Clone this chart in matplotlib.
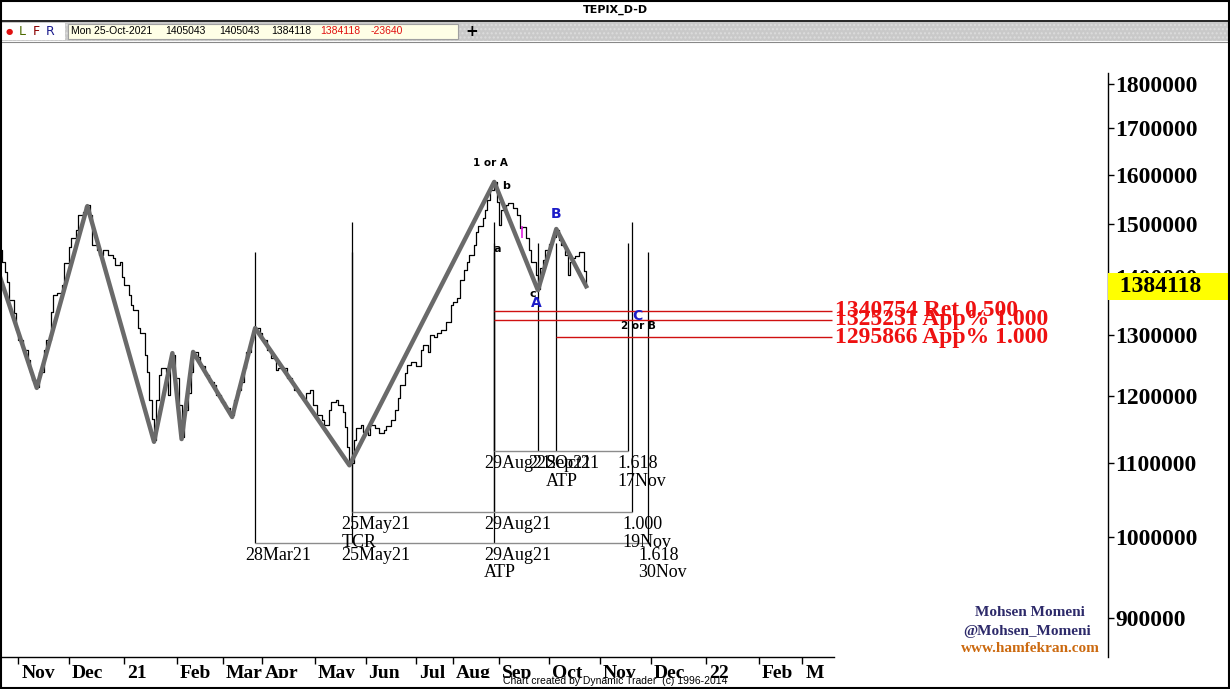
import matplotlib
matplotlib.use("Agg")
import matplotlib.pyplot as plt
import matplotlib.transforms as mtransforms
from matplotlib.patches import Rectangle
from matplotlib.ticker import FixedLocator, NullLocator, FixedFormatter, NullFormatter

# x values are trading-bar numbers counted from the first bar on the chart
bar_idx = [0, 1, 2, 3, 4, 6, 7, 8, 10, 12, 13, 14, 16, 17, 19, 20, 22, 23, 25, 27,
           28, 30, 31, 33, 34, 36, 37, 38, 39, 40, 42, 43, 45, 47, 49, 50, 52, 53, 54, 56,
           57, 58, 60, 61, 63, 64, 65, 66, 67, 68, 69, 70, 72, 73, 74, 75, 76, 78, 79, 80,
           82, 83, 84, 86, 87, 89, 91, 93, 94, 96, 98, 100, 101, 102, 103, 105, 106, 107, 109, 110,
           111, 113, 114, 116, 118, 120, 121, 123, 125, 127, 128, 130, 132, 133, 135, 136, 138, 140, 141, 143,
           144, 146, 147, 149, 150, 151, 152, 154, 155, 157, 158, 160, 161, 163, 165, 167, 168, 170, 172, 173,
           174, 176, 177, 179, 181, 183, 184, 186, 187, 189, 190, 192, 194, 196, 197, 199, 200, 202, 203, 204,
           206, 207, 208, 210, 211, 212, 213, 215, 216, 217, 218, 220, 221, 223, 225, 226, 227, 229, 230, 231,
           233, 234, 235, 236, 237, 239, 240, 242, 243, 244, 246, 247, 248, 249, 250, 252, 253, 254, 255]
bar_close = [1451000, 1428000, 1410000, 1392000, 1360000, 1337000, 1308000, 1291000, 1274000, 1258000,
             1238000, 1226000, 1214000, 1239000, 1274000, 1291000, 1339000, 1369000, 1372000, 1386000,
             1427000, 1457000, 1474000, 1489000, 1518000, 1524000, 1536000, 1538000, 1518000, 1460000,
             1451000, 1441000, 1451000, 1441000, 1436000, 1423000, 1428000, 1401000, 1386000, 1369000,
             1351000, 1342000, 1311000, 1302000, 1266000, 1238000, 1194000, 1165000, 1134000, 1194000,
             1234000, 1245000, 1239000, 1202000, 1258000, 1266000, 1229000, 1186000, 1138000, 1179000,
             1205000, 1238000, 1271000, 1263000, 1248000, 1234000, 1222000, 1218000, 1202000, 1191000,
             1182000, 1176000, 1171000, 1194000, 1210000, 1222000, 1245000, 1271000, 1291000, 1308000,
             1311000, 1302000, 1291000, 1274000, 1261000, 1242000, 1245000, 1245000, 1229000, 1221000,
             1210000, 1202000, 1194000, 1205000, 1210000, 1186000, 1171000, 1164000, 1156000, 1179000,
             1191000, 1194000, 1186000, 1176000, 1153000, 1123000, 1100000, 1134000, 1152000, 1156000,
             1146000, 1141000, 1156000, 1152000, 1144000, 1149000, 1155000, 1164000, 1179000, 1197000,
             1218000, 1237000, 1250000, 1254000, 1248000, 1274000, 1283000, 1271000, 1299000, 1296000,
             1302000, 1308000, 1321000, 1351000, 1356000, 1363000, 1396000, 1414000, 1428000, 1441000,
             1460000, 1485000, 1497000, 1512000, 1528000, 1548000, 1568000, 1585000, 1544000, 1499000,
             1528000, 1538000, 1542000, 1532000, 1518000, 1493000, 1495000, 1474000, 1451000, 1428000,
             1405000, 1379000, 1417000, 1432000, 1451000, 1462000, 1475000, 1489000, 1470000, 1460000,
             1441000, 1405000, 1428000, 1436000, 1440000, 1447000, 1447000, 1411000, 1384118]

wave_bars = [0, 16, 38, 67, 75, 79, 84, 101, 111, 152, 215, 234, 242, 255]
wave_prices = [1401000, 1213000, 1536000, 1131000, 1269000, 1135000, 1271000,
               1168000, 1311000, 1097000, 1585000, 1377000, 1491000, 1384118]

month_ticks = [8, 30, 54, 77, 97, 114, 137, 159, 181, 197, 217, 239, 261, 283, 307, 330, 349]
month_labels = ["Nov", "Dec", "21", "Feb", "Mar", "Apr", "May", "Jun", "Jul", "Aug",
                "Sep", "Oct", "Nov", "Dec", "22", "Feb", "M"]
price_ticks = [900000, 1000000, 1100000, 1200000, 1300000, 1400000, 1500000, 1600000, 1700000, 1800000]

# time projections
proj_bars = [[111, 153, 215, 282], [153, 215, 275], [215, 234, 242, 273]]
proj_labels = [["28Mar21", "25May21", "29Aug21\nATP", "1.618\n30Nov"],
               ["25May21\nTCR", "29Aug21", "1.000\n19Nov"],
               ["29Aug21", "22Sep21", "2Oct21\nATP", "1.618\n17Nov"]]
proj_top = [1447000, 1504000, 1464000]
proj_base = [992000, 1032500, 1117000]

# price projections
zone_prices = [1340754, 1325231, 1295866]
zone_labels = ["1340754 Ret 0.500", "1325231 App% 1.000", "1295866 App% 1.000"]
zone_start = [215, 215, 242]
zone_end = 362

wave_tags = ["1 or A", "b", "a", "c", "A", "B", "C", "2 or B"]
tag_bars = [213.5, 220, 216.5, 231.7, 233.5, 241.7, 277.4, 277.8]
tag_prices = [1624500, 1576600, 1453000, 1370000, 1354400, 1520500, 1331800, 1314600]
tag_colors = ["black", "black", "black", "black", "#1c1cc8", "#1c1cc8", "#1c1cc8", "black"]
tag_sizes = [7.5, 8, 8, 8, 10, 10, 10, 7.5]

last_close = 1384118
quote = ["Mon 25-Oct-2021", "1405043", "1405043", "1384118", "1384118", "-23640"]

W, H = 1230, 689
SERIF = "Liberation Serif"
fig = plt.figure(figsize=(W / 100, H / 100), dpi=100)
fig.patch.set_facecolor("white")


def fx(px):
    return px / W


def fy(py):
    return 1 - py / H


ax = fig.add_axes([0, fy(657), fx(1108), fy(42) - fy(657)])
ax.set_yscale("log")
ax.set_xlim(0, 482)
ax.set_ylim(855200, 1900900)

ax.step(bar_idx, bar_close, where="post", color="black", lw=0.9, zorder=3)
ax.vlines(227, 1474000, 1497000, color="#e020e0", lw=1.2, zorder=4)
ax.plot(wave_bars, wave_prices, color="#6a6a6a", lw=3.2, solid_joinstyle="round", zorder=4)

for bars, labels, top, base in zip(proj_bars, proj_labels, proj_top, proj_base):
    ax.vlines(bars, base, top, color="black", lw=0.9, zorder=2)
    ax.hlines(base, bars[0], bars[-1], color="#8c8c8c", lw=1.0, zorder=2)
    for b, lbl in zip(bars, labels):
        ax.annotate(lbl, xy=(b, base), xytext=(-10, -4), textcoords="offset pixels",
                    ha="left", va="top", fontsize=13, family=SERIF, linespacing=1.05, zorder=5)

for p, lbl, s in zip(zone_prices, zone_labels, zone_start):
    ax.hlines(p, s, zone_end, color="#d01010", lw=1.0, zorder=2)
    ax.annotate(lbl, xy=(zone_end, p), xytext=(3, 0), textcoords="offset pixels",
                ha="left", va="center", fontsize=17, family=SERIF, fontweight="bold",
                color="#ee1111", zorder=5)

for t, b, p, c, s in zip(wave_tags, tag_bars, tag_prices, tag_colors, tag_sizes):
    ax.text(b, p, t, ha="center", va="center", fontsize=s, fontweight="bold",
            color=c, family="DejaVu Sans", zorder=6)

# axes styling
for side in ["left", "top"]:
    ax.spines[side].set_visible(False)
ax.spines["right"].set_linewidth(1.0)
ax.spines["right"].set_bounds(855200, 1826000)
ax.spines["bottom"].set_linewidth(1.0)
ax.spines["bottom"].set_bounds(0, zone_end + 1)

ax.yaxis.tick_right()
ax.yaxis.set_major_locator(FixedLocator(price_ticks))
ax.yaxis.set_major_formatter(FixedFormatter([str(v) for v in price_ticks]))
ax.yaxis.set_minor_locator(NullLocator())
ax.yaxis.set_minor_formatter(NullFormatter())
ax.tick_params(axis="y", direction="out", length=4, width=1, pad=1, labelsize=17)
for lab in ax.get_yticklabels():
    lab.set_family(SERIF)
    lab.set_fontweight("bold")

ax.set_xticks(month_ticks)
ax.set_xticklabels(month_labels)
ax.tick_params(axis="x", direction="out", length=5, width=1, pad=1, labelsize=14)
for lab in ax.get_xticklabels():
    lab.set_family(SERIF)
    lab.set_fontweight("bold")
    lab.set_horizontalalignment("left")
    lab.set_transform(lab.get_transform() + mtransforms.ScaledTranslation(3 / 100, 0, fig.dpi_scale_trans))

# last price box on the right scale
blend = mtransforms.blended_transform_factory(ax.transAxes, ax.transData)
ax.add_patch(Rectangle((1.0, last_close / 1.018), 120 / 1108, last_close * 1.018 - last_close / 1.018,
                       transform=blend, facecolor="#ffff00", edgecolor="none", clip_on=False, zorder=8))
ax.text(1.0, last_close, "  " + str(last_close), transform=blend, ha="left", va="center",
        fontsize=17, fontweight="bold", family=SERIF, clip_on=False, zorder=9)

# author stamp
fig.text(fx(1030), fy(613), "Mohsen Momeni", ha="center", va="center", fontsize=11,
         fontweight="bold", family=SERIF, color="#2d2a6a")
fig.text(fx(1027), fy(631), "@Mohsen_Momeni", ha="center", va="center", fontsize=11,
         fontweight="bold", family=SERIF, color="#2d2a6a")
fig.text(fx(1030), fy(649), "www.hamfekran.com", ha="center", va="center", fontsize=11,
         fontweight="bold", family=SERIF, color="#cc6a10")

# title bar and toolbar
fig.text(fx(615), fy(10), "TEPIX_D-D", ha="center", va="center", fontsize=8, fontweight="bold")
fig.add_artist(plt.Line2D([0, 1], [fy(21), fy(21)], color="black", lw=1.2))
fig.add_artist(Rectangle((0, fy(41)), 1, fy(22) - fy(41), facecolor="#c9c9c9", edgecolor="#dcdcdc",
                         hatch="....", lw=0))
fig.add_artist(Rectangle((0, fy(40)), fx(65), fy(23) - fy(40), facecolor="white", edgecolor="none"))
fig.add_artist(Rectangle((fx(68), fy(39)), fx(390), fy(24) - fy(39), facecolor="#ffffe6",
                         edgecolor="#a0a0a0", lw=0.8))
fig.add_artist(plt.Line2D([0, 1], [fy(42), fy(42)], color="#888888", lw=0.8))
fig.text(fx(9), fy(31.5), "\u25cf", ha="center", va="center", fontsize=6, color="#e01010")
fig.text(fx(22), fy(31.5), "L", ha="center", va="center", fontsize=9, color="#4c6a00")
fig.text(fx(36), fy(31.5), "F", ha="center", va="center", fontsize=9, color="#8b0000")
fig.text(fx(50), fy(31.5), "R", ha="center", va="center", fontsize=9, color="#1a1a8c")
quote_x = [71, 165, 219, 271, 320, 371]
quote_c = ["black", "black", "black", "black", "#e01010", "#e01010"]
for q, x, c in zip(quote, quote_x, quote_c):
    fig.text(fx(x), fy(31.5), q, ha="left", va="center", fontsize=7.5, color=c, family="Liberation Sans")
fig.text(fx(472), fy(31.5), "+", ha="center", va="center", fontsize=11, fontweight="bold")

# footer
fig.add_artist(Rectangle((0, 0), 1, fy(678), facecolor="white", edgecolor="none", zorder=5))
fig.text(fx(615), fy(681.5), "Chart created by Dynamic Trader  (c) 1996-2014", ha="center", va="center",
         fontsize=7.5, family="Liberation Sans", zorder=6)
fig.add_artist(Rectangle((0.0008, 0.0012), 0.9984, 0.9976, facecolor="none", edgecolor="black",
                         lw=1.5, zorder=10))

fig.savefig("out.png", dpi=100)
